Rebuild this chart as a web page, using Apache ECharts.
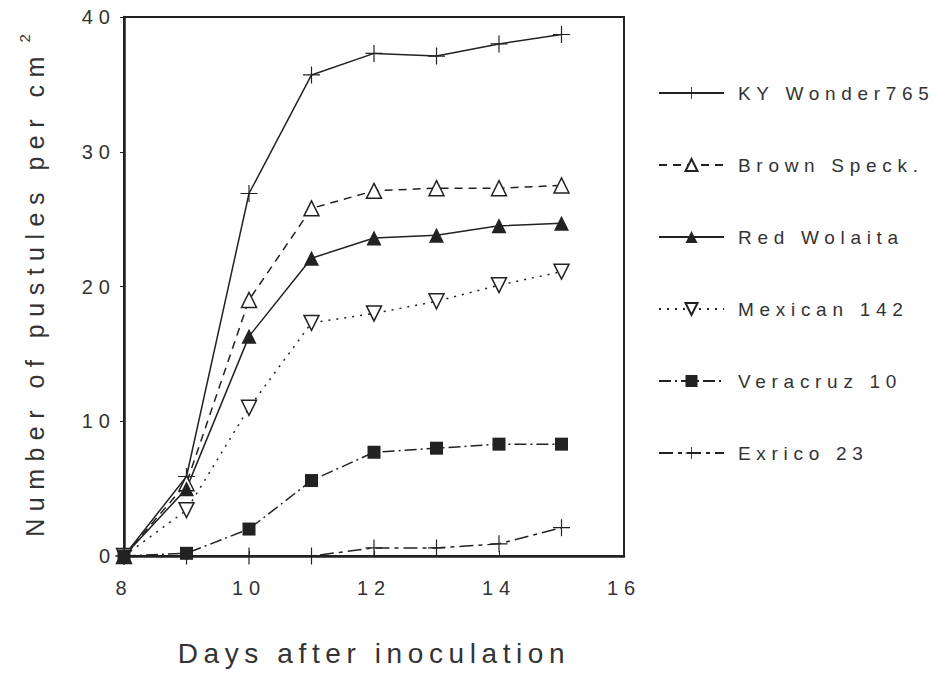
<!DOCTYPE html>
<html>
<head>
<meta charset="utf-8">
<script src="https://cdn.jsdelivr.net/npm/echarts@6/dist/echarts.min.js"></script>
<style>
  html, body { margin: 0; padding: 0; background: #fff; }
  #chart { width: 945px; height: 674px; }
  #chart text { letter-spacing: 0.3em; }
</style>
</head>
<body>
<div id="chart"></div>
<script>
// ---- data ----
const days = [8, 9, 10, 11, 12, 13, 14, 15];
const kyWonder   = [0, 5.9, 26.9, 35.7, 37.3, 37.1, 38.0, 38.7];
const brownSpeck = [0, 5.4, 19.0, 25.8, 27.1, 27.3, 27.3, 27.5];
const redWolaita = [0, 5.0, 16.3, 22.1, 23.6, 23.8, 24.5, 24.7];
const mexican142 = [0, 3.4, 11.0, 17.3, 18.0, 18.9, 20.1, 21.1];
const veracruz10 = [0, 0.2, 2.0, 5.6, 7.7, 8.0, 8.3, 8.3];
const exrico23   = [0, 0, 0, 0, 0.6, 0.6, 0.9, 2.1];
const seriesNames = ['KY Wonder765', 'Brown Speck.', 'Red Wolaita', 'Mexican 142', 'Veracruz 10', 'Exrico 23'];
const xTitle = 'Days after inoculation';
const yTitle = 'Number of pustules per cm';
const ySup = '2';

const ink = '#222';
const txt = '#333';
const FONT = '"Liberation Sans", Arial, sans-serif';
const plusPath = 'path://M-0.07,-1H0.07V1H-0.07Z M-1,-0.07H1V0.07H-1Z';
const downTri = 'path://M-1,-0.9L1,-0.9L0,0.9Z';

function pairs(vals) { return days.map((d, i) => [d, vals[i]]); }

function mk(name, vals, lineType, symbol, size, fill) {
  return {
    name: name,
    type: 'line',
    data: pairs(vals),
    symbol: symbol,
    symbolSize: size,
    showSymbol: true,
    lineStyle: { color: ink, width: 1.5, type: lineType },
    itemStyle: { color: fill, borderColor: ink, borderWidth: fill === '#fff' ? 1.5 : 0 },
    emphasis: { disabled: true },
    z: 3
  };
}

const chart = echarts.init(document.getElementById('chart'), null, { renderer: 'svg' });
chart.setOption({
  animation: false,
  backgroundColor: '#fff',
  textStyle: { fontFamily: FONT, color: txt },
  grid: {
    left: 124, right: 321, top: 17, bottom: 118,
    show: true, borderColor: ink, borderWidth: 2, backgroundColor: 'transparent'
  },
  xAxis: {
    type: 'value', min: 8, max: 16, interval: 2,
    name: xTitle, nameLocation: 'middle', nameGap: 83,
    nameTextStyle: { fontSize: 28, color: txt, fontFamily: FONT },
    axisLine: { show: true, onZero: false, lineStyle: { color: ink, width: 2.5 } },
    axisTick: { show: true, inside: true, length: 5, lineStyle: { color: ink, width: 1 } },
    minorTick: { show: false },
    axisLabel: { fontSize: 20, color: txt, margin: 22, fontFamily: FONT },
    splitLine: { show: false }
  },
  yAxis: {
    type: 'value', min: 0, max: 40, interval: 10,
    axisLine: { show: true, lineStyle: { color: ink, width: 2.5 } },
    axisTick: { show: true, inside: false, length: 4, lineStyle: { color: ink, width: 1 } },
    axisLabel: { fontSize: 20, color: txt, margin: 8, fontFamily: FONT },
    splitLine: { show: false }
  },
  legend: {
    orient: 'vertical',
    left: 653, top: 78,
    itemWidth: 65, itemHeight: 15, itemGap: 52,
    textStyle: { fontSize: 19, color: txt, fontFamily: FONT, lineHeight: 20, padding: [0, 0, 0, 9] },
    data: seriesNames,
    selectedMode: false
  },
  graphic: [
    {
      type: 'text', x: 35, y: 293, rotation: Math.PI / 2,
      style: { text: yTitle, fontSize: 25, fontFamily: FONT, fill: txt, align: 'center', verticalAlign: 'middle' }
    },
    {
      type: 'text', x: 24, y: 36, rotation: Math.PI / 2,
      style: { text: ySup, fontSize: 15, fontFamily: FONT, fill: txt, align: 'center', verticalAlign: 'middle' }
    }
  ],
  series: [
    mk(seriesNames[0], kyWonder, 'solid', plusPath, 17, ink),
    mk(seriesNames[1], brownSpeck, [8, 6], 'triangle', 15, '#fff'),
    mk(seriesNames[2], redWolaita, 'solid', 'triangle', 15, ink),
    mk(seriesNames[3], mexican142, [2, 6], downTri, 15, '#fff'),
    mk(seriesNames[4], veracruz10, [12, 4, 2, 4], 'rect', 13, ink),
    mk(seriesNames[5], exrico23, [14, 5, 4, 5], plusPath, 17, ink)
  ]
});
document.querySelectorAll('#chart text').forEach(function (t) {
  if (t.textContent === xTitle) t.style.letterSpacing = '0.2em';
});
</script>
</body>
</html>
